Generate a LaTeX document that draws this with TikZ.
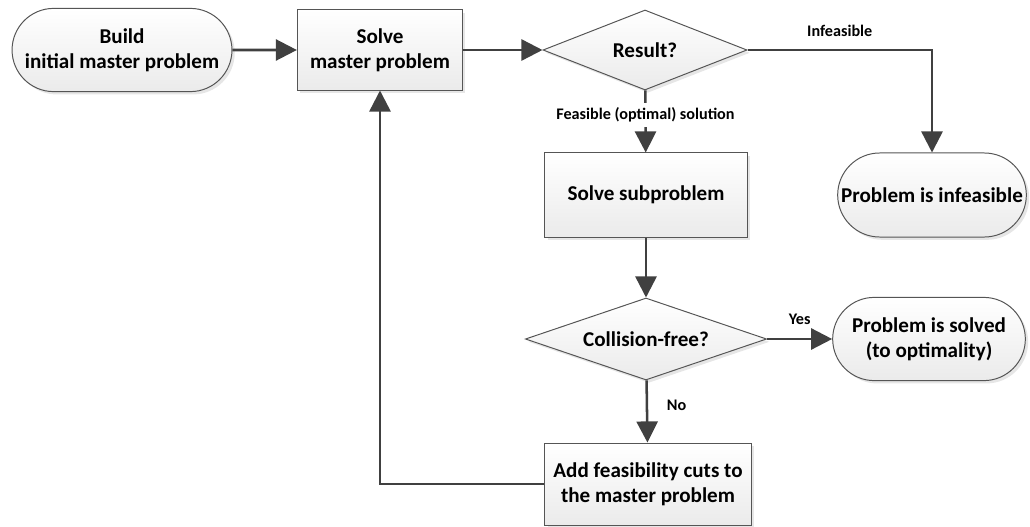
\documentclass[tikz,border=0pt]{standalone}
\usepackage{fontspec}
\setmainfont{Carlito}
\usetikzlibrary{shapes.geometric,shapes.misc,arrows.meta,shadows}
\definecolor{linegray}{HTML}{404040}
\definecolor{bordergray}{HTML}{555555}

\begin{document}
\begin{tikzpicture}[x=0.025cm,y=-0.025cm,
   every node/.style={font=\fontsize{15}{18}\selectfont\bfseries},
   box/.style={draw=bordergray,line width=0.7pt,top color=white,bottom color=gray!16,align=center,
      drop shadow={shadow xshift=2pt,shadow yshift=-2pt,opacity=0.2}},
   process/.style={box,rectangle},
   terminal/.style={box,rounded rectangle},
   decision/.style={box,diamond,aspect=3,inner sep=0pt},
   flow/.style={draw=linegray,line width=1.8pt,-{Triangle[length=15pt,width=15pt]}},
   lab/.style={font=\fontsize{11.5}{14}\selectfont\bfseries}]
\useasboundingbox (0,0) rectangle (1030,526);

% top row
\node[terminal,minimum width=5.73cm,minimum height=2.08cm] (build) at (122,50) {Build\\initial master problem};
\node[process,minimum width=4.13cm,minimum height=2cm] (master) at (380,50) {Solve\\master problem};
\node[decision,minimum width=5.1cm,minimum height=2cm] (result) at (645,50) {Result?};
\node[terminal,minimum width=4.95cm,minimum height=2.1cm] (infeas) at (932,195) {Problem is infeasible};

% middle column
\node[process,minimum width=5.05cm,minimum height=2.1cm] (sub) at (646,195) {Solve subproblem};
\node[decision,minimum width=6.03cm,minimum height=2.05cm] (coll) at (646,339) {Collision-free?};
\node[terminal,minimum width=5.05cm,minimum height=2.08cm] (solved) at (929,339) {Problem is solved\\(to optimality)};
\node[process,minimum width=5.15cm,minimum height=2.05cm] (add) at (648,484) {Add feasibility cuts to\\the master problem};

% connectors
\draw[flow] (build) -- (master);
\draw[flow] (master) -- (result);
\draw[flow] (result.east) -| node[lab,pos=0.25,above=5pt] (linf) {Infeasible} (infeas.north);
\draw[flow] (result) -- node[lab,pos=0.4,fill=white] (lfeas) {Feasible (optimal) solution} (sub);
\draw[flow] (sub) -- (coll);
\draw[flow] (coll) -- node[lab,above=6pt] (lyes) {Yes} (solved);
\draw[flow] (coll) -- node[lab,pos=0.4,right=10pt] (lno) {No} (add);
\draw[flow] (add.west) -| (master.south);
\end{tikzpicture}
\end{document}
